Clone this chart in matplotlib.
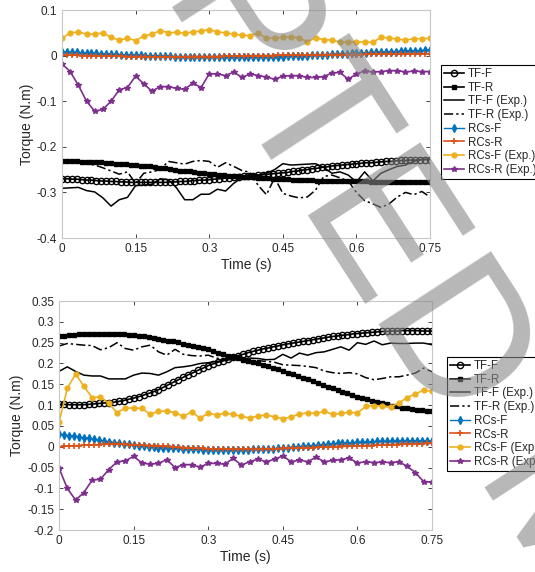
import numpy as np
import matplotlib
matplotlib.use('Agg')
import matplotlib.pyplot as plt
from matplotlib.ticker import FuncFormatter

plt.rcParams['font.family'] = ['Liberation Sans', 'DejaVu Sans']
plt.rcParams['axes.unicode_minus'] = False

# time grids: simulations every 0.01 s, experiments every 1/60 s
t_sim = np.round(np.arange(76) * 0.01, 4)
t_exp = np.arange(46) / 60.0

# ---------------- top panel ----------------
top_tf_f = [-0.270, -0.270, -0.271, -0.271, -0.272, -0.273, -0.273, -0.274, -0.275, -0.275,
            -0.276, -0.276, -0.277, -0.277, -0.278, -0.278, -0.278, -0.278, -0.278, -0.278,
            -0.278, -0.278, -0.277, -0.277, -0.276, -0.276, -0.275, -0.274, -0.273, -0.273,
            -0.272, -0.271, -0.270, -0.269, -0.268, -0.267, -0.266, -0.265, -0.264, -0.263,
            -0.262, -0.261, -0.260, -0.259, -0.258, -0.257, -0.256, -0.254, -0.253, -0.251,
            -0.250, -0.248, -0.247, -0.245, -0.244, -0.242, -0.241, -0.240, -0.239, -0.238,
            -0.237, -0.236, -0.235, -0.235, -0.234, -0.233, -0.232, -0.232, -0.231, -0.230,
            -0.230, -0.229, -0.229, -0.228, -0.228, -0.228]
top_tf_r = [-0.232, -0.232, -0.232, -0.232, -0.233, -0.233, -0.233, -0.234, -0.234, -0.235,
            -0.236, -0.237, -0.237, -0.238, -0.239, -0.240, -0.241, -0.242, -0.243, -0.245,
            -0.246, -0.247, -0.249, -0.250, -0.252, -0.253, -0.254, -0.255, -0.257, -0.258,
            -0.259, -0.260, -0.261, -0.262, -0.263, -0.264, -0.265, -0.266, -0.266, -0.267,
            -0.268, -0.269, -0.269, -0.270, -0.270, -0.271, -0.271, -0.272, -0.272, -0.273,
            -0.273, -0.273, -0.274, -0.274, -0.275, -0.275, -0.275, -0.275, -0.276, -0.276,
            -0.276, -0.276, -0.276, -0.277, -0.277, -0.277, -0.277, -0.277, -0.277, -0.277,
            -0.277, -0.277, -0.277, -0.277, -0.277, -0.277]
top_tf_f_exp = [-0.291, -0.290, -0.289, -0.296, -0.299, -0.312, -0.330, -0.316, -0.311, -0.285,
                -0.284, -0.282, -0.270, -0.272, -0.290, -0.316, -0.316, -0.304, -0.304, -0.293,
                -0.297, -0.280, -0.268, -0.260, -0.262, -0.258, -0.250, -0.237, -0.240, -0.239,
                -0.238, -0.237, -0.245, -0.258, -0.255, -0.262, -0.277, -0.255, -0.275, -0.258,
                -0.250, -0.243, -0.240, -0.232, -0.228, -0.227]
top_tf_r_exp = [-0.232, -0.233, -0.235, -0.237, -0.240, -0.246, -0.253, -0.260, -0.255, -0.280,
                -0.258, -0.255, -0.250, -0.232, -0.235, -0.238, -0.232, -0.230, -0.232, -0.245,
                -0.235, -0.243, -0.252, -0.256, -0.285, -0.305, -0.268, -0.302, -0.308, -0.312,
                -0.310, -0.295, -0.265, -0.262, -0.268, -0.275, -0.300, -0.318, -0.325, -0.333,
                -0.325, -0.310, -0.300, -0.305, -0.298, -0.310]
top_rc_f = [0.008, 0.008, 0.007, 0.007, 0.006, 0.006, 0.005, 0.005, 0.004, 0.004,
            0.003, 0.003, 0.002, 0.002, 0.002, 0.001, 0.001, 0.000, 0.000, 0.000,
            -0.001, -0.001, -0.001, -0.002, -0.002, -0.002, -0.002, -0.003, -0.003, -0.003,
            -0.003, -0.003, -0.003, -0.003, -0.004, -0.004, -0.004, -0.004, -0.003, -0.003,
            -0.003, -0.003, -0.003, -0.002, -0.002, -0.002, -0.001, -0.001, -0.001, 0.000,
            0.000, 0.001, 0.001, 0.002, 0.002, 0.003, 0.003, 0.004, 0.004, 0.005,
            0.005, 0.006, 0.006, 0.007, 0.007, 0.008, 0.008, 0.009, 0.009, 0.010,
            0.010, 0.010, 0.011, 0.011, 0.012, 0.012]
top_rc_r = [0.001, 0.001, 0.001, 0.001, 0.000, 0.000, 0.000, 0.000, -0.001, -0.001,
            -0.001, -0.001, -0.001, -0.002, -0.002, -0.002, -0.002, -0.002, -0.003, -0.003,
            -0.003, -0.003, -0.003, -0.003, -0.003, -0.003, -0.002, -0.002, -0.002, -0.002,
            -0.002, -0.002, -0.002, -0.001, -0.001, -0.001, -0.001, -0.001, 0.000, 0.000,
            0.000, 0.000, 0.000, 0.000, 0.001, 0.001, 0.001, 0.001, 0.001, 0.001,
            0.001, 0.001, 0.001, 0.002, 0.002, 0.002, 0.002, 0.002, 0.002, 0.002,
            0.002, 0.002, 0.003, 0.003, 0.003, 0.003, 0.003, 0.003, 0.003, 0.003,
            0.003, 0.004, 0.004, 0.004, 0.004, 0.004]
top_rc_f_exp = [0.038, 0.050, 0.052, 0.047, 0.047, 0.050, 0.040, 0.034, 0.038, 0.033,
                0.043, 0.047, 0.055, 0.050, 0.051, 0.049, 0.052, 0.054, 0.057, 0.052,
                0.050, 0.047, 0.045, 0.044, 0.049, 0.038, 0.039, 0.040, 0.041, 0.039,
                0.030, 0.039, 0.035, 0.034, 0.029, 0.030, 0.030, 0.030, 0.029, 0.040,
                0.039, 0.036, 0.034, 0.037, 0.037, 0.038]
top_rc_r_exp = [-0.018, -0.035, -0.065, -0.100, -0.122, -0.118, -0.100, -0.075, -0.070, -0.045,
                -0.062, -0.078, -0.068, -0.068, -0.072, -0.074, -0.060, -0.070, -0.040, -0.040,
                -0.044, -0.036, -0.048, -0.040, -0.044, -0.047, -0.052, -0.045, -0.044, -0.044,
                -0.048, -0.048, -0.046, -0.038, -0.037, -0.052, -0.040, -0.034, -0.036, -0.035,
                -0.033, -0.033, -0.036, -0.034, -0.035, -0.035]

# ---------------- bottom panel ----------------
bot_tf_f = [0.102, 0.102, 0.101, 0.101, 0.101, 0.101, 0.102, 0.103, 0.104, 0.105,
            0.106, 0.107, 0.109, 0.111, 0.114, 0.117, 0.120, 0.124, 0.128, 0.132,
            0.137, 0.143, 0.149, 0.155, 0.161, 0.167, 0.173, 0.178, 0.184, 0.189,
            0.195, 0.199, 0.203, 0.207, 0.211, 0.215, 0.219, 0.222, 0.226, 0.229,
            0.232, 0.235, 0.237, 0.240, 0.242, 0.245, 0.247, 0.249, 0.251, 0.253,
            0.255, 0.257, 0.259, 0.261, 0.263, 0.265, 0.266, 0.268, 0.269, 0.271,
            0.272, 0.273, 0.274, 0.275, 0.276, 0.277, 0.277, 0.278, 0.278, 0.279,
            0.279, 0.279, 0.279, 0.278, 0.278, 0.278]
bot_tf_r = [0.266, 0.267, 0.268, 0.269, 0.270, 0.271, 0.271, 0.272, 0.272, 0.272,
            0.272, 0.272, 0.271, 0.270, 0.269, 0.268, 0.267, 0.265, 0.263, 0.261,
            0.259, 0.257, 0.255, 0.253, 0.251, 0.248, 0.245, 0.243, 0.240, 0.237,
            0.234, 0.230, 0.226, 0.223, 0.219, 0.215, 0.212, 0.209, 0.206, 0.203,
            0.200, 0.196, 0.193, 0.189, 0.186, 0.182, 0.178, 0.174, 0.170, 0.166,
            0.162, 0.158, 0.153, 0.149, 0.144, 0.140, 0.136, 0.132, 0.128, 0.124,
            0.120, 0.117, 0.114, 0.111, 0.108, 0.105, 0.102, 0.099, 0.097, 0.094,
            0.092, 0.090, 0.089, 0.088, 0.087, 0.086]
bot_tf_f_exp = [0.181, 0.192, 0.181, 0.172, 0.170, 0.170, 0.163, 0.163, 0.163, 0.172,
                0.177, 0.176, 0.172, 0.180, 0.190, 0.192, 0.195, 0.200, 0.202, 0.205,
                0.207, 0.210, 0.212, 0.213, 0.212, 0.209, 0.210, 0.222, 0.213, 0.225,
                0.220, 0.226, 0.228, 0.234, 0.240, 0.232, 0.250, 0.246, 0.254, 0.245,
                0.249, 0.248, 0.248, 0.249, 0.249, 0.245]
bot_tf_r_exp = [0.242, 0.248, 0.246, 0.244, 0.243, 0.233, 0.238, 0.250, 0.236, 0.232,
                0.240, 0.244, 0.228, 0.220, 0.234, 0.222, 0.219, 0.218, 0.220, 0.213,
                0.209, 0.211, 0.208, 0.207, 0.207, 0.205, 0.203, 0.197, 0.196, 0.195,
                0.193, 0.190, 0.182, 0.178, 0.176, 0.178, 0.175, 0.166, 0.161, 0.164,
                0.168, 0.168, 0.172, 0.177, 0.189, 0.180]
bot_rc_f = [0.030, 0.029, 0.027, 0.026, 0.024, 0.022, 0.020, 0.018, 0.016, 0.014,
            0.012, 0.010, 0.009, 0.007, 0.006, 0.004, 0.003, 0.002, 0.000, -0.001,
            -0.002, -0.003, -0.003, -0.004, -0.004, -0.005, -0.005, -0.006, -0.006, -0.007,
            -0.007, -0.007, -0.007, -0.007, -0.007, -0.007, -0.007, -0.007, -0.007, -0.006,
            -0.006, -0.006, -0.005, -0.005, -0.004, -0.003, -0.002, -0.001, 0.000, 0.001,
            0.002, 0.003, 0.004, 0.005, 0.006, 0.007, 0.008, 0.009, 0.009, 0.010,
            0.011, 0.011, 0.012, 0.012, 0.013, 0.013, 0.013, 0.014, 0.014, 0.014,
            0.014, 0.014, 0.014, 0.014, 0.014, 0.014]
bot_rc_r = [0.000, 0.001, 0.002, 0.002, 0.003, 0.004, 0.004, 0.005, 0.005, 0.006,
            0.006, 0.006, 0.006, 0.006, 0.005, 0.005, 0.004, 0.004, 0.003, 0.003,
            0.002, 0.001, 0.001, 0.000, -0.001, -0.002, -0.002, -0.003, -0.004, -0.004,
            -0.005, -0.005, -0.005, -0.006, -0.006, -0.006, -0.006, -0.006, -0.006, -0.006,
            -0.006, -0.006, -0.005, -0.005, -0.005, -0.004, -0.004, -0.003, -0.003, -0.002,
            -0.002, -0.002, -0.001, -0.001, 0.000, 0.000, 0.000, 0.001, 0.001, 0.002,
            0.002, 0.002, 0.003, 0.003, 0.004, 0.004, 0.004, 0.005, 0.005, 0.006,
            0.006, 0.006, 0.007, 0.007, 0.008, 0.008]
bot_rc_f_exp = [0.059, 0.140, 0.175, 0.145, 0.118, 0.120, 0.104, 0.082, 0.093, 0.093,
                0.092, 0.078, 0.085, 0.086, 0.082, 0.073, 0.084, 0.069, 0.080, 0.077,
                0.080, 0.078, 0.073, 0.069, 0.074, 0.076, 0.072, 0.067, 0.072, 0.078,
                0.082, 0.080, 0.085, 0.078, 0.080, 0.083, 0.081, 0.097, 0.099, 0.098,
                0.096, 0.105, 0.118, 0.127, 0.136, 0.133]
bot_rc_r_exp = [-0.051, -0.100, -0.128, -0.110, -0.080, -0.078, -0.055, -0.036, -0.034, -0.023,
                -0.039, -0.042, -0.040, -0.031, -0.050, -0.043, -0.043, -0.049, -0.040, -0.040,
                -0.042, -0.028, -0.044, -0.036, -0.030, -0.036, -0.030, -0.022, -0.036, -0.032,
                -0.036, -0.025, -0.036, -0.033, -0.031, -0.027, -0.039, -0.036, -0.038, -0.037,
                -0.038, -0.036, -0.047, -0.062, -0.084, -0.085]

x_ticks = [0, 0.15, 0.3, 0.45, 0.6, 0.75]
top_yticks = [-0.4, -0.3, -0.2, -0.1, 0, 0.1]
bot_yticks = [-0.2, -0.15, -0.1, -0.05, 0, 0.05, 0.1, 0.15, 0.2, 0.25, 0.3, 0.35]

txt = '#262626'
fmt = FuncFormatter(lambda v, p: '%g' % round(v, 4))


def draw_panel(ax, tff, tfr, tffe, tfre, rcf, rcr, rcfe, rcre):
    ax.plot(t_sim, tff, '-o', color='k', mfc='none', ms=4.5, mew=1.0, lw=1.2, label='TF-F')
    ax.plot(t_sim, tfr, '-s', color='k', ms=3, lw=1.2, label='TF-R')
    ax.plot(t_exp, tffe, '-', color='k', lw=1.1, label='TF-F (Exp.)')
    ax.plot(t_exp, tfre, color='k', lw=1.1, dashes=(6, 2, 1.5, 2), label='TF-R (Exp.)')
    ax.plot(t_sim, rcf, '-d', color='#0072BD', ms=4, lw=1.0, label='RCs-F')
    ax.plot(t_sim, rcr, '-+', color='#D95319', ms=4.5, mew=1.2, lw=1.2, label='RCs-R')
    ax.plot(t_exp, rcfe, '-o', color='#EDB120', ms=3.5, lw=1.2, label='RCs-F (Exp.)')
    ax.plot(t_exp, rcre, '-*', color='#7E2F8E', ms=4, lw=1.2, label='RCs-R (Exp.)')


def style_axes(ax, ylim, yticks):
    ax.set_xlim(0, 0.75)
    ax.set_ylim(*ylim)
    ax.set_xticks(x_ticks)
    ax.set_yticks(yticks)
    ax.xaxis.set_major_formatter(fmt)
    ax.yaxis.set_major_formatter(fmt)
    ax.tick_params(direction='in', top=True, right=True, length=3, width=0.6,
                   colors=txt, labelsize=8.5)
    for s in ax.spines.values():
        s.set_color('#c8c8c8')
        s.set_linewidth(0.8)
    ax.set_xlabel('Time (s)', fontsize=10, color=txt, labelpad=2)
    ax.set_ylabel('Torque (N.m)', fontsize=10, color=txt, labelpad=2)


fig = plt.figure(figsize=(5.35, 5.72), dpi=100)
ax1 = fig.add_axes([0.1159, 0.5839, 0.6879, 0.3986])
ax2 = fig.add_axes([0.1103, 0.0734, 0.6972, 0.4003])

draw_panel(ax1, top_tf_f, top_tf_r, top_tf_f_exp, top_tf_r_exp,
           top_rc_f, top_rc_r, top_rc_f_exp, top_rc_r_exp)
style_axes(ax1, (-0.4, 0.1), top_yticks)

draw_panel(ax2, bot_tf_f, bot_tf_r, bot_tf_f_exp, bot_tf_r_exp,
           bot_rc_f, bot_rc_r, bot_rc_f_exp, bot_rc_r_exp)
style_axes(ax2, (-0.2, 0.35), bot_yticks)

for ax, anchor in [(ax1, (441 / 535, 1 - 65 / 572)), (ax2, (447 / 535, 1 - 357 / 572))]:
    leg = ax.legend(loc='upper left', bbox_to_anchor=anchor, bbox_transform=fig.transFigure,
                    borderaxespad=0, fontsize=8.3, fancybox=False, edgecolor='k',
                    framealpha=1, handlelength=1.75, handletextpad=0.3,
                    labelspacing=0.15, borderpad=0.25)
    leg.get_frame().set_linewidth(0.8)
    for t in leg.get_texts():
        t.set_color(txt)

# diagonal watermark of the source manuscript
fig.text(1.055, 0.094, 'ACCEPTED MANUSCRIPT', fontsize=140, rotation=-57,
         ha='center', va='center', rotation_mode='anchor',
         color='#878787', alpha=0.6, zorder=10)

fig.savefig('out.png', dpi=100)
